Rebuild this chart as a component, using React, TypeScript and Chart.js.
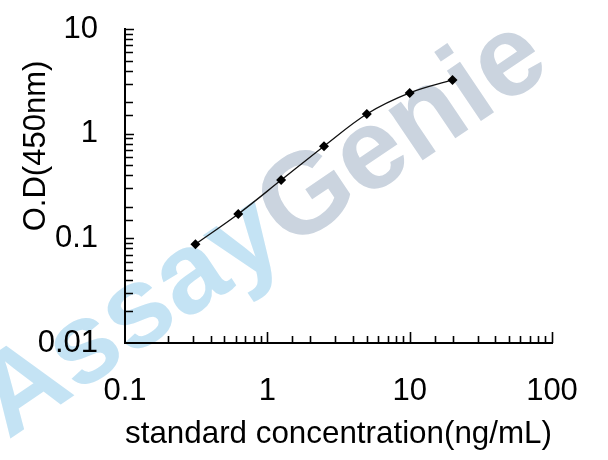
import { useEffect, useRef } from 'react'
import { Chart, registerables } from 'chart.js'

Chart.register(...registerables)

// standard curve
const concentrations = [0.3125, 0.625, 1.25, 2.5, 5, 10, 20]
const odValues = [0.088, 0.171, 0.36, 0.76, 1.54, 2.45, 3.26]

const xTickLabels = ['0.1', '1', '10', '100']
const yTickLabels = ['0.01', '0.1', '1', '10']
const xTitle = 'standard concentration(ng/mL)'
const yTitle = 'O.D(450nm)'
const watermarkParts = ['Assay', 'Genie']
const watermarkColors = ['#c4e3f4', '#cbd4df']

const FONT = '"Liberation Sans", Arial, sans-serif'

const decadeLabel = (v: number, labels: string[]) => {
  const l = Math.log10(v)
  if (Math.abs(l - Math.round(l)) > 1e-6) return ''
  return labels.find(s => Math.abs(Number(s) - v) < v * 1e-6) ?? ''
}

// watermark behind everything
const watermarkPlugin = {
  id: 'watermark',
  beforeDraw(chart: Chart) {
    const ctx = chart.ctx
    ctx.save()
    ctx.translate(8, 440)
    ctx.rotate(-34 * Math.PI / 180)
    ctx.font = `bold 115px ${FONT}`
    ctx.textBaseline = 'alphabetic'
    let x = 0
    watermarkParts.forEach((t, i) => {
      ctx.fillStyle = watermarkColors[i]
      ctx.fillText(t, x, 0)
      x += ctx.measureText(t).width
    })
    ctx.restore()
  },
}

// inward tick marks + rotated y title
const axisPlugin = {
  id: 'inwardTicks',
  afterDraw(chart: Chart) {
    const { ctx, chartArea, scales } = chart
    const isDecade = (v: number) => Math.abs(Math.log10(v) - Math.round(Math.log10(v))) < 1e-6
    ctx.save()
    ctx.strokeStyle = '#000'
    ctx.lineWidth = 1.6
    ctx.beginPath()
    const xs = scales.x
    xs.ticks.forEach(t => {
      if (t.value <= (xs.min as number) * 1.0001) return
      const px = Math.round(xs.getPixelForValue(t.value)) + 0.5
      const len = isDecade(t.value) ? 11 : 7
      ctx.moveTo(px, chartArea.bottom)
      ctx.lineTo(px, chartArea.bottom - len)
    })
    const ys = scales.y
    ys.ticks.forEach(t => {
      if (t.value <= (ys.min as number) * 1.0001) return
      const py = Math.round(ys.getPixelForValue(t.value)) + 0.5
      const len = isDecade(t.value) ? 9 : 8
      ctx.moveTo(chartArea.left, py)
      ctx.lineTo(chartArea.left + len, py)
    })
    ctx.stroke()

    ctx.translate(36, 146)
    ctx.rotate(-Math.PI / 2)
    ctx.font = `31px ${FONT}`
    ctx.fillStyle = '#000'
    ctx.textAlign = 'center'
    ctx.textBaseline = 'middle'
    ctx.fillText(yTitle, 0, 0)
    ctx.restore()
  },
}

export default function App() {
  const ref = useRef<HTMLCanvasElement>(null)

  useEffect(() => {
    document.body.style.margin = '0'
    if (!ref.current) return

    const chart = new Chart(ref.current, {
      type: 'line',
      data: {
        datasets: [{
          label: 'OD',
          data: concentrations.map((x, i) => ({ x, y: odValues[i] })),
          borderColor: '#111',
          borderWidth: 1.3,
          cubicInterpolationMode: 'monotone',
          pointStyle: 'rectRot',
          pointRadius: 5,
          pointBackgroundColor: '#000',
          pointBorderColor: '#000',
          pointBorderWidth: 0,
        }],
      },
      options: {
        animation: false,
        responsive: true,
        maintainAspectRatio: false,
        layout: { padding: { top: 29, right: 56, left: 0, bottom: 0 } },
        plugins: {
          legend: { display: false },
          tooltip: { enabled: false },
        },
        scales: {
          x: {
            type: 'logarithmic',
            min: 0.1,
            max: 100,
            grid: { drawOnChartArea: false, drawTicks: false },
            border: { display: true, color: '#000', width: 2 },
            ticks: {
              autoSkip: false,
              maxRotation: 0,
              minRotation: 0,
              padding: 30,
              color: '#000',
              font: { family: FONT, size: 31 },
              callback: (v) => decadeLabel(Number(v), xTickLabels),
            },
            title: {
              display: true,
              text: xTitle,
              color: '#000',
              font: { family: FONT, size: 32 },
              padding: { top: 0, bottom: 7 },
            },
            afterFit: (s: any) => {
              s.height = 117
              s.paddingLeft = 0
              s.paddingRight = 0
            },
          },
          y: {
            type: 'logarithmic',
            min: 0.01,
            max: 10,
            grid: { drawOnChartArea: false, drawTicks: false },
            border: { display: true, color: '#000', width: 2 },
            ticks: {
              autoSkip: false,
              padding: 27,
              color: '#000',
              font: { family: FONT, size: 31 },
              callback: (v) => decadeLabel(Number(v), yTickLabels),
            },
            afterFit: (s: any) => {
              s.width = 125
              s.paddingTop = 0
              s.paddingBottom = 0
            },
          },
        },
      },
      plugins: [watermarkPlugin, axisPlugin],
    })

    return () => chart.destroy()
  }, [])

  return (
    <div style={{ position: 'relative', width: 608, height: 460, background: '#fff' }}>
      <canvas ref={ref} />
    </div>
  )
}
